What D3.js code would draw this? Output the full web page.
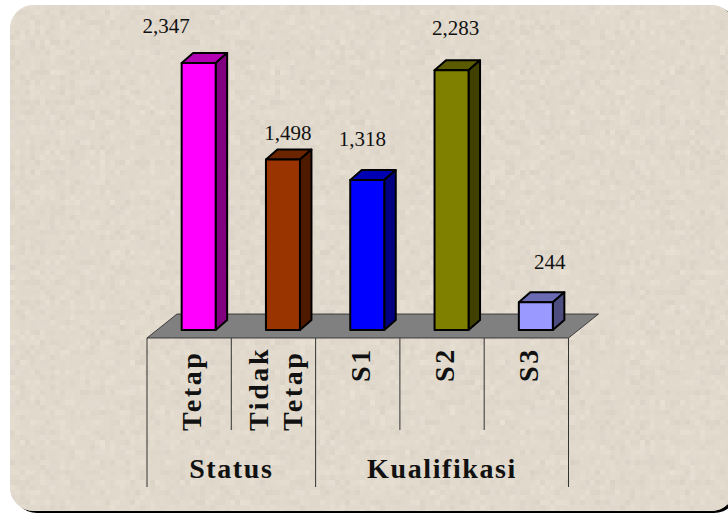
<!DOCTYPE html>
<html>
<head>
<meta charset="utf-8">
<script src="https://cdn.jsdelivr.net/npm/d3@7"></script>
<style>
  html, body { margin: 0; padding: 0; background: #fff; }
  svg { display: block; }
  text { fill: #111; font-family: "Liberation Serif", serif; }
  .val { font-size: 21px; }
  .cat { font-weight: bold; font-size: 28px; letter-spacing: 2.6px; }
  .group { font-weight: bold; font-size: 28px; letter-spacing: 1.6px; }
</style>
</head>
<body>
<div id="chart"></div>
<script>
// values
const categories = ["Tetap", "Tidak Tetap", "S1", "S2", "S3"];
const values = [2347, 1498, 1318, 2283, 244];
const groups = ["Status", "Kualifikasi"];
const groupSizes = [2, 3];
const faceColors = ["#ff00ff", "#993300", "#0000ff", "#808000", "#9999ff"];

const width = 728, height = 514;
const depthX = 11.5, depthY = 10;
const barW = 34;
const floorY = 338, axisInner = 430, axisOuter = 487;
const baseY = 330;

// hand placed labels in the original, offset from the top of each bar
const labelDx = [-32.5, 5, -5, 4, 14];
const labelDy = [-30, -20, -34, -35, -33];

const svg = d3.select("#chart").append("svg")
  .attr("width", width)
  .attr("height", height);

// blocky paper texture: sample the noise every 5px, then grow each sample
const defs = svg.append("defs");
const paper = defs.append("filter")
  .attr("id", "paper")
  .attr("filterUnits", "userSpaceOnUse")
  .attr("primitiveUnits", "userSpaceOnUse")
  .attr("x", 0).attr("y", 0).attr("width", width + 60).attr("height", height)
  .attr("color-interpolation-filters", "sRGB");
paper.append("feTurbulence")
  .attr("type", "fractalNoise")
  .attr("baseFrequency", 0.5)
  .attr("numOctaves", 2)
  .attr("seed", 11)
  .attr("result", "noise");
paper.append("feColorMatrix")
  .attr("in", "noise")
  .attr("type", "matrix")
  .attr("values", "0.09 0 0 0 0.835  0.09 0 0 0 0.805  0.09 0 0 0 0.755  0 0 0 0 1")
  .attr("result", "tint");
paper.append("feFlood")
  .attr("x", 2).attr("y", 2).attr("width", 1).attr("height", 1)
  .attr("flood-color", "#000")
  .attr("result", "dot");
paper.append("feOffset")
  .attr("in", "dot")
  .attr("x", 0).attr("y", 0).attr("width", 5).attr("height", 5)
  .attr("result", "cell");
paper.append("feTile").attr("in", "cell").attr("result", "dots");
paper.append("feComposite")
  .attr("in", "tint").attr("in2", "dots").attr("operator", "in")
  .attr("result", "samples");
paper.append("feMorphology")
  .attr("in", "samples")
  .attr("operator", "dilate")
  .attr("radius", 2)
  .attr("result", "blocks");
paper.append("feComposite").attr("in", "blocks").attr("in2", "SourceAlpha").attr("operator", "in");

// background panel with the black edge along the bottom
svg.append("rect")
  .attr("x", 13).attr("y", 7).attr("width", 725).attr("height", 506)
  .attr("rx", 24)
  .attr("fill", "#000");
svg.append("rect")
  .attr("x", 10).attr("y", 5).attr("width", 725).attr("height", 506)
  .attr("rx", 24)
  .attr("fill", "#e0d9cc");
svg.append("rect")
  .attr("x", 10).attr("y", 5).attr("width", 725).attr("height", 506)
  .attr("rx", 24)
  .attr("fill", "#e0d9cc")
  .attr("filter", "url(#paper)");

const x = d3.scaleBand().domain(categories).range([147, 568.5]);
const y = d3.scaleLinear().domain([0, 2347]).range([baseY, 63]);
const shade = (c, k) => {
  let r = d3.rgb(c);
  return d3.rgb(r.r * k, r.g * k, r.b * k).formatHex();
};

// floor
const floorPath = d3.path();
floorPath.moveTo(x.range()[0], floorY);
floorPath.lineTo(x.range()[0] + 30, floorY - 24);
floorPath.lineTo(x.range()[1] + 30, floorY - 24);
floorPath.lineTo(x.range()[1], floorY);
floorPath.closePath();
svg.append("path")
  .attr("d", floorPath.toString())
  .attr("fill", "#808080")
  .attr("stroke", "#222")
  .attr("stroke-width", 0.8);

// bars
const bars = svg.selectAll("g.bar")
  .data(categories)
  .enter()
  .append("g")
  .attr("class", "bar")
  .attr("stroke", "#000")
  .attr("stroke-width", 2)
  .attr("stroke-linejoin", "round");

const barLeft = d => x(d) + x.bandwidth() / 2 + 9.5 - barW / 2;

bars.append("path") // top face
  .attr("d", (d, i) => {
    let x0 = barLeft(d), y0 = y(values[i]);
    return `M${x0},${y0}L${x0 + depthX},${y0 - depthY}L${x0 + barW + depthX},${y0 - depthY}L${x0 + barW},${y0}Z`;
  })
  .attr("fill", (d, i) => shade(faceColors[i], 0.7));

bars.append("path") // side face
  .attr("d", (d, i) => {
    let x0 = barLeft(d) + barW, y0 = y(values[i]);
    return `M${x0},${y0}L${x0 + depthX},${y0 - depthY}L${x0 + depthX},${baseY - depthY}L${x0},${baseY}Z`;
  })
  .attr("fill", (d, i) => shade(faceColors[i], 0.5));

bars.append("rect") // front face
  .attr("x", d => barLeft(d))
  .attr("y", (d, i) => y(values[i]))
  .attr("width", barW)
  .attr("height", (d, i) => baseY - y(values[i]))
  .attr("fill", (d, i) => faceColors[i]);

// value labels
svg.selectAll("text.val")
  .data(values)
  .enter()
  .append("text")
  .attr("class", "val")
  .attr("text-anchor", "middle")
  .attr("x", (d, i) => barLeft(categories[i]) + barW / 2 + labelDx[i])
  .attr("y", (d, i) => y(d) + labelDy[i])
  .text(d => d3.format(",")(d));

// divider lines under the floor
let edges = x.domain().map(d => x(d)).concat(x.range()[1]);
let groupEdges = [0];
groupSizes.forEach(n => groupEdges.push(groupEdges[groupEdges.length - 1] + n));

svg.selectAll("line.tick")
  .data(edges)
  .enter()
  .append("line")
  .attr("class", "tick")
  .attr("x1", d => d).attr("x2", d => d)
  .attr("y1", floorY)
  .attr("y2", (d, i) => groupEdges.includes(i) ? axisOuter : axisInner)
  .attr("stroke", "#333")
  .attr("stroke-width", 1);

// rotated category labels, the two word one is split over two columns
svg.selectAll("g.catlabel")
  .data(categories)
  .enter()
  .append("g")
  .attr("class", "catlabel")
  .attr("transform", d => {
    let cx = x(d) + x.bandwidth() / 2;
    return `translate(${cx},${d[0] == "S" ? 382 : 431}) rotate(-90)`;
  })
  .each(function(d) {
    let lines = d.split(" ");
    let g = d3.select(this);
    lines.forEach((line, i) => {
      g.append("text")
        .attr("class", "cat")
        .attr("y", lines.length > 1 ? (i == 0 ? -5.5 : 28.5) : 12)
        .text(line);
    });
  });

// group labels
svg.selectAll("text.group")
  .data(groups)
  .enter()
  .append("text")
  .attr("class", "group")
  .attr("text-anchor", "middle")
  .attr("x", (d, i) => (edges[groupEdges[i]] + edges[groupEdges[i + 1]]) / 2)
  .attr("y", 478)
  .text(d => d);
</script>
</body>
</html>
